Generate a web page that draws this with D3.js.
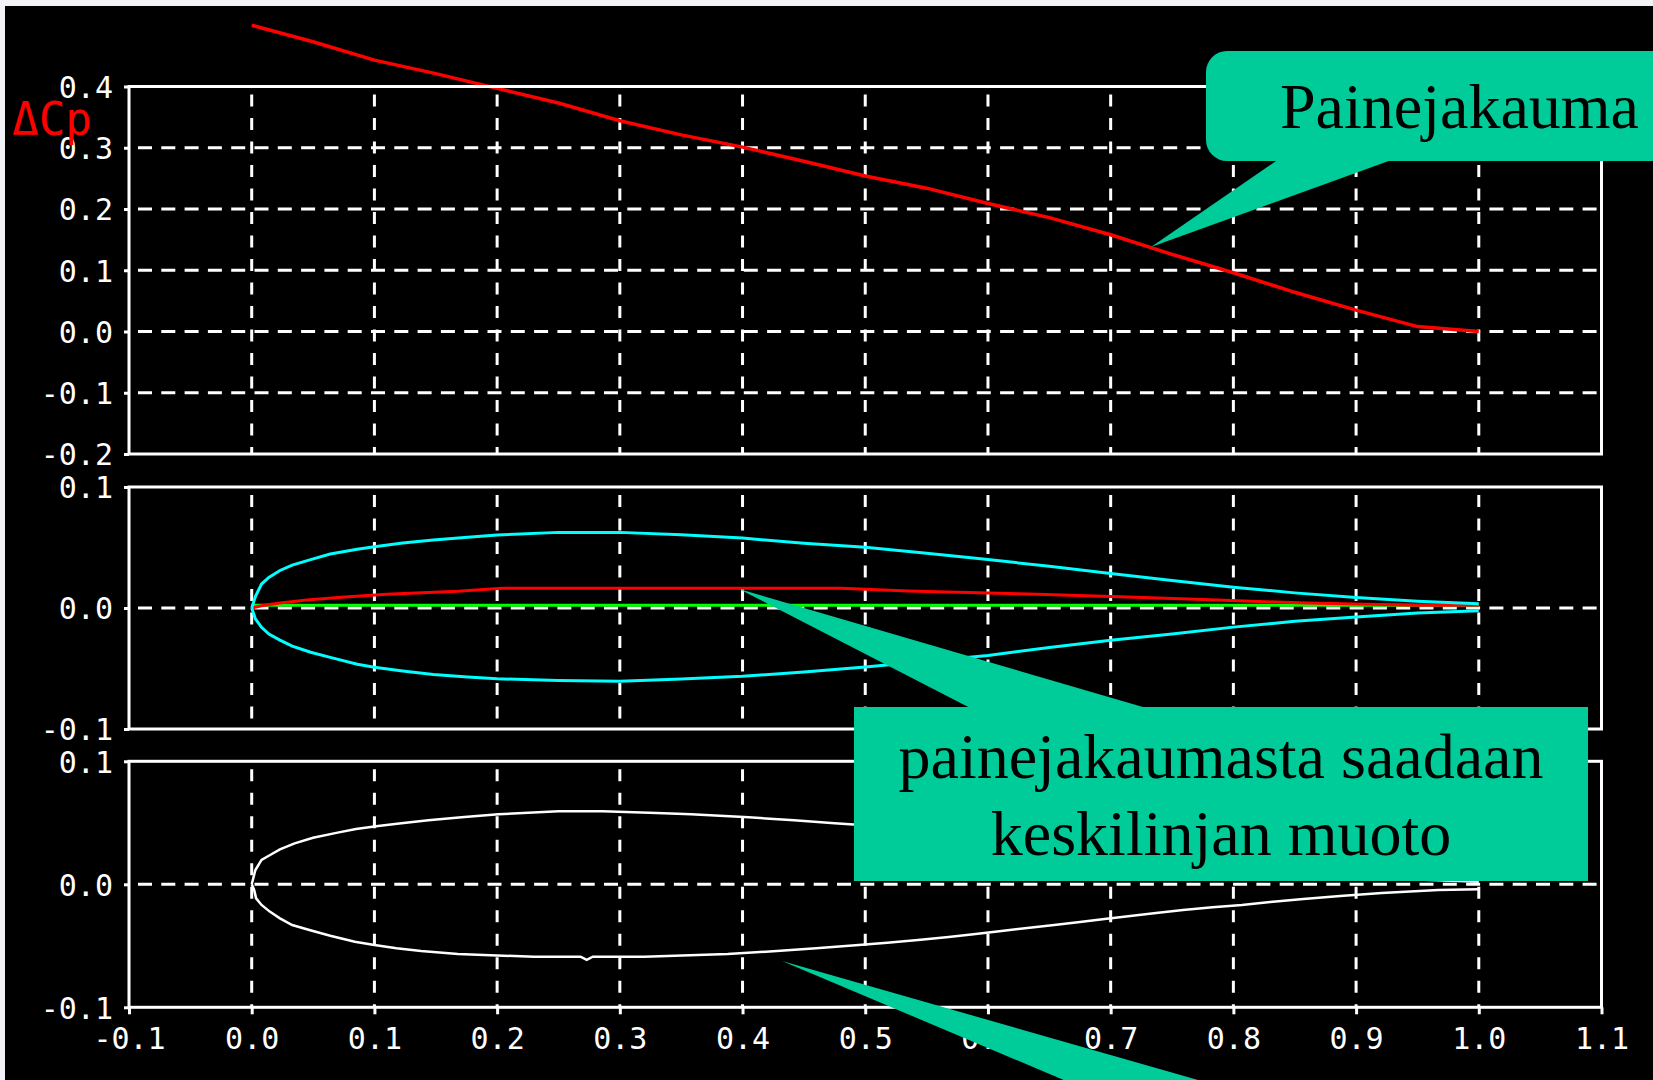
<html>
<style>
body { margin: 0; background: #f2f2f8; }
</style>
<body>
<script src="https://d3js.org/d3.v7.min.js"></script>
<script>

// tick values
var xTicks = [-0.1, 0.0, 0.1, 0.2, 0.3, 0.4, 0.5, 0.6, 0.7, 0.8, 0.9, 1.0, 1.1];
var gridX = [0.0, 0.1, 0.2, 0.3, 0.4, 0.5, 0.6, 0.7, 0.8, 0.9, 1.0];
var topTicks = [0.4, 0.3, 0.2, 0.1, 0.0, -0.1, -0.2];
var topGridY = [0.3, 0.2, 0.1, 0.0, -0.1];
var foilTicks = [0.1, 0.0, -0.1];

// pressure difference (top panel)
var cpX = [0, 0.05, 0.1, 0.15, 0.2, 0.25, 0.3, 0.35, 0.4, 0.45, 0.5, 0.55, 0.6, 0.65, 0.7, 0.75, 0.8, 0.85, 0.9, 0.95, 1.0];
var cpY = [0.500, 0.473, 0.443, 0.421, 0.397, 0.373, 0.344, 0.321, 0.301, 0.278, 0.254, 0.234, 0.209, 0.186, 0.158, 0.126, 0.096, 0.064, 0.035, 0.008, 0.0];

// thickness distribution (middle panel, cyan)
var thickX = [0, 0.003, 0.008, 0.014, 0.023, 0.033, 0.048, 0.064, 0.086, 0.1, 0.123, 0.148, 0.176, 0.2, 0.25, 0.3, 0.35, 0.4, 0.45, 0.5, 0.55, 0.6, 0.65, 0.7, 0.75, 0.8, 0.85, 0.9, 0.95, 1.0];
var thickUpper = [0, 0.0095, 0.0198, 0.0253, 0.031, 0.0355, 0.040, 0.0446, 0.0486, 0.0507, 0.0538, 0.0562, 0.0585, 0.0603, 0.0625, 0.0625, 0.0606, 0.0578, 0.0535, 0.0502, 0.0452, 0.0400, 0.0345, 0.0286, 0.0228, 0.0172, 0.0125, 0.0086, 0.0056, 0.0035];
var thickLower = [0, -0.009, -0.016, -0.0215, -0.0265, -0.0315, -0.0366, -0.0408, -0.0465, -0.049, -0.052, -0.055, -0.057, -0.0585, -0.0600, -0.0606, -0.0587, -0.0565, -0.0528, -0.0487, -0.0440, -0.0392, -0.0326, -0.0267, -0.0214, -0.0158, -0.0110, -0.0074, -0.0041, -0.0022];

// mean line (middle panel, red) and chord (green)
var camberX = [0, 0.008, 0.023, 0.045, 0.073, 0.11, 0.168, 0.204, 0.34, 0.48, 0.535, 0.633, 0.714, 0.787, 0.859, 0.95, 1.0];
var camberY = [0, 0.0019, 0.0041, 0.0066, 0.0088, 0.0113, 0.0138, 0.0163, 0.0163, 0.0163, 0.0140, 0.0116, 0.0091, 0.0066, 0.0041, 0.0022, 0.0022];
var chordX = [0, 1.0];
var chordY = [0.0022, 0.0022];

// airfoil (bottom panel, white)
var foilUpperX = [0, 0.003, 0.008, 0.015, 0.023, 0.035, 0.05, 0.07, 0.085, 0.103, 0.122, 0.144, 0.171, 0.201, 0.25, 0.286, 0.33, 0.358, 0.405, 0.442, 0.475, 0.5, 0.55, 0.6, 0.65, 0.7, 0.75, 0.8, 0.85, 0.9, 0.95, 1.0];
var foilUpperY = [0, 0.0116, 0.0198, 0.0238, 0.0284, 0.0333, 0.0379, 0.042, 0.045, 0.0474, 0.0496, 0.052, 0.0545, 0.0569, 0.0593, 0.0593, 0.058, 0.0569, 0.0545, 0.052, 0.0496, 0.048, 0.044, 0.039, 0.034, 0.028, 0.022, 0.016, 0.011, 0.007, 0.004, 0.002];
var foilLowerX = [0, 0.002, 0.0036, 0.008, 0.0147, 0.023, 0.033, 0.047, 0.064, 0.084, 0.1, 0.118, 0.138, 0.168, 0.23, 0.268, 0.273, 0.278, 0.32, 0.388, 0.428, 0.46, 0.492, 0.518, 0.543, 0.568, 0.59, 0.611, 0.632, 0.654, 0.675, 0.695, 0.716, 0.737, 0.759, 0.783, 0.807, 0.83, 0.857, 0.887, 0.921, 0.967, 1.0];
var foilLowerY = [0, -0.0046, -0.0114, -0.0168, -0.0222, -0.0277, -0.0331, -0.0372, -0.0418, -0.0467, -0.0493, -0.052, -0.0542, -0.0567, -0.0589, -0.0589, -0.0615, -0.0589, -0.0589, -0.0567, -0.0542, -0.052, -0.0496, -0.0475, -0.0453, -0.0428, -0.0404, -0.038, -0.0355, -0.0331, -0.0307, -0.0282, -0.0258, -0.0233, -0.0209, -0.0187, -0.0168, -0.0144, -0.012, -0.0095, -0.0071, -0.0046, -0.0040];

var width = 1653,
    height = 1080;

var x = d3.scaleLinear().domain([-0.1, 1.1]).range([129, 1601.5]);
var yTop = d3.scaleLinear().domain([-0.2, 0.4]).range([454, 86.5]);
var yMid = d3.scaleLinear().domain([-0.1, 0.1]).range([729, 487]);
var yBot = d3.scaleLinear().domain([-0.1, 0.1]).range([1007.3, 761.3]);

var mono = "'DejaVu Sans Mono', monospace";
var serif = "'Liberation Serif', 'Times New Roman', serif";
var teal = "#00cc99";

var svg = d3.select("body").append("svg")
    .attr("width", width)
    .attr("height", height);

svg.append("rect")
    .attr("x", 5).attr("y", 6)
    .attr("width", width - 5).attr("height", height - 6)
    .attr("fill", "#000");

function panel(y, hGrid, ticks) {
  var g = svg.append("g");
  var y0 = y.range()[1], y1 = y.range()[0];

  g.selectAll(".vgrid")
    .data(gridX)
    .enter().append("line")
    .attr("x1", d => x(d)).attr("x2", d => x(d))
    .attr("y1", y0).attr("y2", y1)
    .attr("stroke", "#fff").attr("stroke-width", 3)
    .attr("stroke-dasharray", "12,11.5")
    .attr("stroke-dashoffset", -8);

  g.selectAll(".hgrid")
    .data(hGrid)
    .enter().append("line")
    .attr("x1", x(-0.1)).attr("x2", x(1.1))
    .attr("y1", d => y(d)).attr("y2", d => y(d))
    .attr("stroke", "#fff").attr("stroke-width", 3)
    .attr("stroke-dasharray", "14,9.3")
    .attr("stroke-dashoffset", -9);

  var ax = g.append("g")
    .attr("transform", "translate(" + x(-0.1) + ",0)")
    .call(d3.axisLeft(y).tickValues(ticks).tickSize(5).tickPadding(11).tickFormat(d => d.toFixed(1)));
  ax.select(".domain").remove();
  ax.selectAll("line").attr("stroke", "#fff").attr("stroke-width", 3);
  ax.selectAll("text")
    .attr("fill", "#fff")
    .attr("dy", "0.36em")
    .style("font-family", mono)
    .style("font-size", "30px");

  return g;
}

function frame(y) {
  svg.append("rect")
    .attr("x", x(-0.1)).attr("y", y.range()[1])
    .attr("width", x(1.1) - x(-0.1))
    .attr("height", y.range()[0] - y.range()[1])
    .attr("fill", "none")
    .attr("stroke", "#fff").attr("stroke-width", 3);
}

function curve(y, xs, ys, color, w) {
  var line = d3.line().x(d => x(d[0])).y(d => y(d[1]));
  svg.append("path")
    .datum(d3.zip(xs, ys))
    .attr("d", line)
    .attr("fill", "none")
    .attr("stroke", color)
    .attr("stroke-width", w);
}

panel(yTop, topGridY, topTicks);
panel(yMid, [0.0], foilTicks);
panel(yBot, [0.0], foilTicks);

curve(yTop, cpX, cpY, "#ff0000", 3.5);

curve(yMid, chordX, chordY, "#00ff00", 3);
curve(yMid, camberX, camberY, "#ff0000", 3);
curve(yMid, thickX, thickUpper, "#00ffff", 3);
curve(yMid, thickX, thickLower, "#00ffff", 3);

curve(yBot, foilUpperX, foilUpperY, "#fff", 2.5);
curve(yBot, foilLowerX, foilLowerY, "#fff", 2.5);

frame(yTop);
frame(yMid);
frame(yBot);

var xa = svg.append("g")
    .attr("transform", "translate(0," + yBot.range()[0] + ")")
    .call(d3.axisBottom(x).tickValues(xTicks).tickSize(7).tickPadding(13).tickFormat(d => d.toFixed(1)));
xa.select(".domain").remove();
xa.selectAll("line").attr("stroke", "#fff").attr("stroke-width", 3);
xa.selectAll("text")
  .attr("fill", "#fff")
  .style("font-family", mono)
  .style("font-size", "30px");

svg.append("text")
    .attr("x", 12).attr("y", 135)
    .attr("fill", "#ff0000")
    .attr("textLength", 80)
    .attr("lengthAdjust", "spacingAndGlyphs")
    .style("font-family", mono)
    .style("font-size", "46px")
    .text("\u0394Cp");

// callouts
svg.append("polygon")
    .attr("points", "1151,247 1292,150 1419,150")
    .attr("fill", teal);
svg.append("rect")
    .attr("x", 1206).attr("y", 51)
    .attr("width", 520).attr("height", 110)
    .attr("rx", 21)
    .attr("fill", teal);
svg.append("text")
    .attr("x", 1280).attr("y", 128)
    .attr("fill", "#000")
    .style("font-family", serif)
    .style("font-size", "64px")
    .text("Painejakauma");

svg.append("polygon")
    .attr("points", "739,589 978,712 1160,712")
    .attr("fill", teal);
svg.append("rect")
    .attr("x", 854).attr("y", 707)
    .attr("width", 734).attr("height", 174)
    .attr("fill", teal);
svg.append("text")
    .attr("x", 1221).attr("y", 778)
    .attr("text-anchor", "middle")
    .attr("fill", "#000")
    .style("font-family", serif)
    .style("font-size", "64px")
    .text("painejakaumasta saadaan");
svg.append("text")
    .attr("x", 1221).attr("y", 855)
    .attr("text-anchor", "middle")
    .attr("fill", "#000")
    .style("font-family", serif)
    .style("font-size", "64px")
    .text("keskilinjan muoto");

svg.append("polygon")
    .attr("points", "782,961 1111,1100 1268,1100")
    .attr("fill", teal);

</script>
</body>
</html>
